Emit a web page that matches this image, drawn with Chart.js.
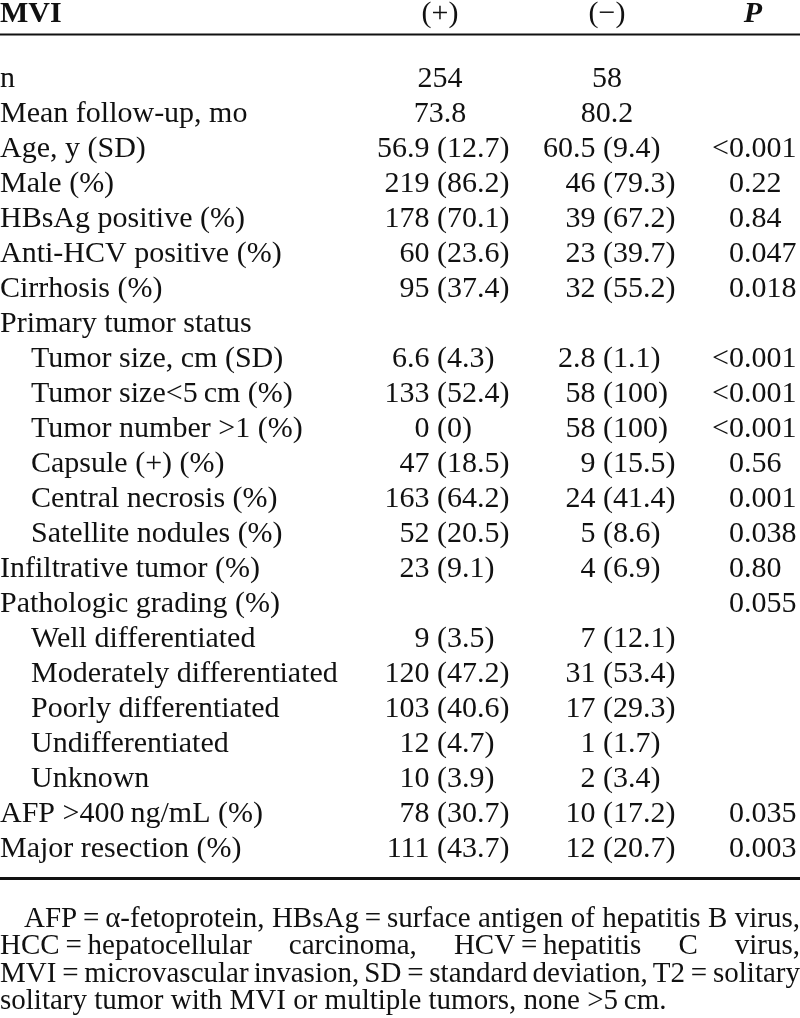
<!DOCTYPE html>
<html>
<head>
<meta charset="utf-8">
<script src="https://cdn.jsdelivr.net/npm/chart.js@4.4.0/dist/chart.umd.min.js"></script>
<style>
  html, body { margin: 0; padding: 0; background: #fff; }
  #wrap { width: 800px; height: 1018px; }
</style>
</head>
<body>
<div id="wrap"><canvas id="mviTable" width="800" height="1018"></canvas></div>
<script>
// table content
const headers = ['MVI', '(+)', '(\u2212)', 'P'];

const rowLabels = [
    'n', 'Mean follow-up, mo', 'Age, y (SD)', 'Male (%)', 'HBsAg positive (%)',
    'Anti-HCV positive (%)', 'Cirrhosis (%)', 'Primary tumor status',
    'Tumor size, cm (SD)', 'Tumor size<5\u2009cm (%)', 'Tumor number >1 (%)',
    'Capsule (+) (%)', 'Central necrosis (%)', 'Satellite nodules (%)',
    'Infiltrative tumor (%)', 'Pathologic grading (%)', 'Well differentiated',
    'Moderately differentiated', 'Poorly differentiated', 'Undifferentiated',
    'Unknown', 'AFP >400\u2009ng/mL (%)', 'Major resection (%)'
];

// 1 = sub row (indented)
const rowLevel = [0, 0, 0, 0, 0, 0, 0, 0, 1, 1, 1, 1, 1, 1, 0, 0, 1, 1, 1, 1, 1, 0, 0];

const mviPositive = [
    '254', '73.8', '56.9 (12.7)', '219 (86.2)', '178 (70.1)', '60 (23.6)', '95 (37.4)', '',
    '6.6 (4.3)', '133 (52.4)', '0 (0)', '47 (18.5)', '163 (64.2)', '52 (20.5)',
    '23 (9.1)', '', '9 (3.5)', '120 (47.2)', '103 (40.6)', '12 (4.7)', '10 (3.9)',
    '78 (30.7)', '111 (43.7)'
];

const mviNegative = [
    '58', '80.2', '60.5 (9.4)', '46 (79.3)', '39 (67.2)', '23 (39.7)', '32 (55.2)', '',
    '2.8 (1.1)', '58 (100)', '58 (100)', '9 (15.5)', '24 (41.4)', '5 (8.6)',
    '4 (6.9)', '', '7 (12.1)', '31 (53.4)', '17 (29.3)', '1 (1.7)', '2 (3.4)',
    '10 (17.2)', '12 (20.7)'
];

const pValues = [
    '', '', '<0.001', '0.22', '0.84', '0.047', '0.018', '',
    '<0.001', '<0.001', '<0.001', '0.56', '0.001', '0.038',
    '0.80', '0.055', '', '', '', '', '',
    '0.035', '0.003'
];

const footnoteLines = [
    'AFP\u2009=\u2009\u03b1-fetoprotein, HBsAg\u2009=\u2009surface antigen of hepatitis B virus,',
    'HCC\u2009=\u2009hepatocellular carcinoma, HCV\u2009=\u2009hepatitis C virus,',
    'MVI\u2009=\u2009microvascular invasion, SD\u2009=\u2009standard deviation, T2\u2009=\u2009solitary',
    'solitary tumor with MVI or multiple tumors, none >5\u2009cm.'
];

// layout
const FONT = '"Liberation Serif", "Times New Roman", serif';
const TEXT_SIZE = 30;
const NOTE_SIZE = 29;
const INDENT = 31;
const PLUS_PAREN = 437, PLUS_CENTER = 440;
const MINUS_PAREN = 603, MINUS_CENTER = 607;
const P_DOT = 744, P_CENTER = 753;
const INK = '#111';

function drawAligned(ctx, text, parenX, centerX, y) {
    if (!text) return;
    const idx = text.indexOf('(');
    if (idx < 0) {
        ctx.textAlign = 'center';
        ctx.fillText(text, centerX, y);
        return;
    }
    ctx.textAlign = 'left';
    ctx.fillText(text, parenX - ctx.measureText(text.slice(0, idx)).width, y);
}

function drawJustified(ctx, text, left, right, y, justify) {
    const words = text.split(' ');
    ctx.textAlign = 'left';
    if (!justify || words.length < 2) {
        ctx.fillText(text, left, y);
        return;
    }
    const total = words.reduce((s, w) => s + ctx.measureText(w).width, 0);
    const gap = Math.max(ctx.measureText(' ').width * 0.6, (right - left - total) / (words.length - 1));
    let cx = left;
    words.forEach(w => {
        ctx.fillText(w, cx, y);
        cx += ctx.measureText(w).width + gap;
    });
}

const tablePlugin = {
    id: 'tableText',
    afterDraw(chart) {
        const { ctx, scales: { x, y } } = chart;
        ctx.save();
        ctx.fillStyle = INK;
        ctx.strokeStyle = INK;
        ctx.textBaseline = 'alphabetic';

        const firstRow = y.getPixelForValue(0);
        const lastRow = y.getPixelForValue(rowLabels.length - 1);

        // header
        const headY = firstRow - 65;
        ctx.font = 'bold ' + TEXT_SIZE + 'px ' + FONT;
        ctx.textAlign = 'left';
        ctx.fillText(headers[0], x.getPixelForValue(0), headY);
        ctx.font = TEXT_SIZE + 'px ' + FONT;
        ctx.textAlign = 'center';
        ctx.fillText(headers[1], x.getPixelForValue(PLUS_CENTER), headY);
        ctx.fillText(headers[2], x.getPixelForValue(MINUS_CENTER), headY);
        ctx.font = 'italic bold ' + TEXT_SIZE + 'px ' + FONT;
        ctx.fillText(headers[3], x.getPixelForValue(P_CENTER), headY);

        // rules
        ctx.lineWidth = 2;
        ctx.beginPath();
        ctx.moveTo(x.getPixelForValue(0), firstRow - 52.5);
        ctx.lineTo(x.getPixelForValue(800), firstRow - 52.5);
        ctx.stroke();
        ctx.lineWidth = 3;
        ctx.beginPath();
        ctx.moveTo(x.getPixelForValue(0), lastRow + 21.5);
        ctx.lineTo(x.getPixelForValue(800), lastRow + 21.5);
        ctx.stroke();

        // body rows
        ctx.font = TEXT_SIZE + 'px ' + FONT;
        rowLabels.forEach((label, i) => {
            const py = y.getPixelForValue(i);
            ctx.textAlign = 'left';
            ctx.fillText(label, x.getPixelForValue(rowLevel[i] ? INDENT : 0), py);
            drawAligned(ctx, mviPositive[i], x.getPixelForValue(PLUS_PAREN), x.getPixelForValue(PLUS_CENTER), py);
            drawAligned(ctx, mviNegative[i], x.getPixelForValue(MINUS_PAREN), x.getPixelForValue(MINUS_CENTER), py);
            const p = pValues[i];
            if (p) {
                ctx.textAlign = 'left';
                const dot = p.indexOf('.');
                ctx.fillText(p, x.getPixelForValue(P_DOT) - ctx.measureText(p.slice(0, dot)).width, py);
            }
        });

        // footnote
        ctx.font = NOTE_SIZE + 'px ' + FONT;
        footnoteLines.forEach((line, k) => {
            const ny = lastRow + 70 + k * 27.3;
            const left = x.getPixelForValue(k === 0 ? 24 : 0);
            drawJustified(ctx, line, left, x.getPixelForValue(800), ny, k < footnoteLines.length - 1);
        });
        ctx.restore();
    }
};

new Chart(document.getElementById('mviTable'), {
    type: 'scatter',
    data: { datasets: [] },
    options: {
        responsive: false,
        devicePixelRatio: 1,
        animation: false,
        layout: { padding: { top: 87, bottom: 161, left: 0, right: 0 } },
        scales: {
            x: { type: 'linear', min: 0, max: 800, display: false },
            y: { type: 'category', labels: rowLabels, offset: false, display: false }
        },
        plugins: { legend: { display: false }, tooltip: { enabled: false } }
    },
    plugins: [tablePlugin]
});
</script>
</body>
</html>
